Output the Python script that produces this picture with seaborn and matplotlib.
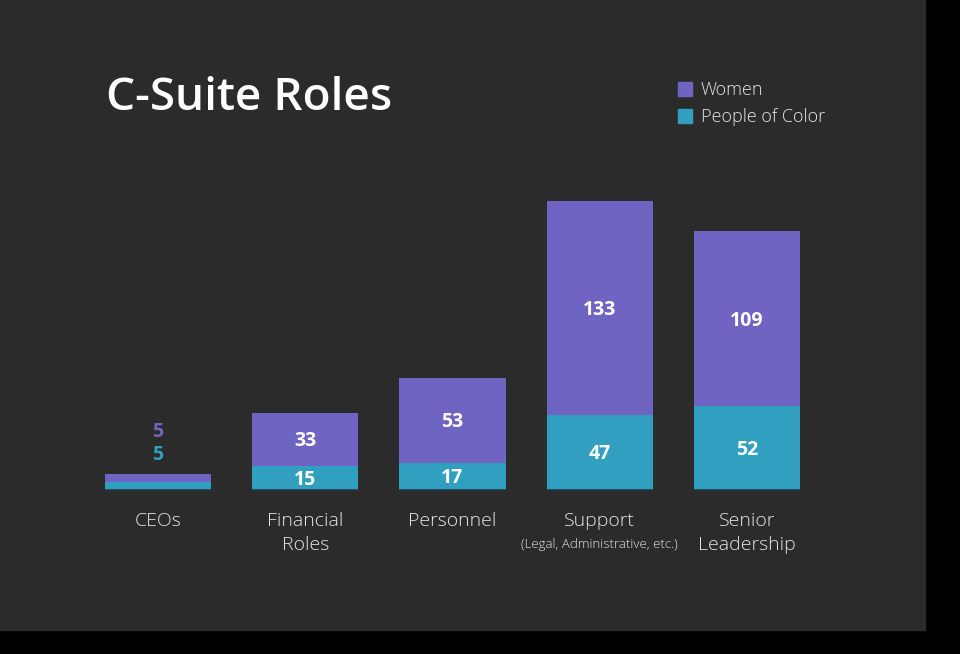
import matplotlib
matplotlib.use("Agg")
import matplotlib.pyplot as plt
import matplotlib.patches as mpatches
import seaborn as sns
import pandas as pd

categories = ["CEOs", "Financial\nRoles", "Personnel", "Support", "Senior\nLeadership"]
women = [5, 33, 53, 133, 109]
people_of_color = [5, 15, 17, 47, 52]
series_names = ["Women", "People of Color"]
title = "C-Suite Roles"
sub_note = "(Legal, Administrative, etc.)"

PURPLE = "#6f64c1"
TEAL = "#319fc0"
BG = "#2b2b2b"
TXT = "#e6e6e6"

sns.set_style("dark")
plt.rcParams["font.family"] = ["Open Sans", "DejaVu Sans"]

df = pd.DataFrame({
    "cat": categories,
    "women": women,
    "poc": people_of_color,
})
df["total"] = df["women"] + df["poc"]

W, H = 960, 654
PX = 321.2 / 200  # pixels per data unit
DY = -2 / PX      # small downward nudge for value labels
fig = plt.figure(figsize=(9.6, 6.54), dpi=100, facecolor="black")
bg = mpatches.Rectangle((0, 24 / H), 925 / W, 630 / H,
                        transform=fig.transFigure, color=BG, zorder=-10)
fig.add_artist(bg)

ax = fig.add_axes([84.4 / W, (H - 490) / H, (820.6 - 84.4) / W, 321.2 / H])
ax.set_facecolor("none")
ax.set_zorder(5)

sns.barplot(data=df, x="cat", y="total", color=PURPLE, width=0.72,
            saturation=1, ax=ax, edgecolor="none")
sns.barplot(data=df, x="cat", y="poc", color=TEAL, width=0.72,
            saturation=1, ax=ax, edgecolor="none")

ax.set_xlim(-0.5, len(categories) - 0.5)
ax.set_ylim(0, 200)
ax.set_xlabel("")
ax.set_ylabel("")
ax.set_yticks([])
ax.set_xticks([])
for s in ax.spines.values():
    s.set_visible(False)
ax.grid(False)

# thin dark base under bars
for i in range(len(categories)):
    ax.plot([i - 0.36, i + 0.36], [0, 0], color="#1f3a44", lw=1.2,
            solid_capstyle="butt", clip_on=False, zorder=5)

# value labels
for i, (w, p) in enumerate(zip(women, people_of_color)):
    if w + p < 20:
        ax.text(i, 37.4 + DY, str(w), color=PURPLE, ha="center", va="center",
                fontsize=14, fontweight="bold")
        ax.text(i, 23 + DY, str(p), color=TEAL, ha="center", va="center",
                fontsize=14, fontweight="bold")
    else:
        ax.text(i, p + w / 2 + DY, str(w), color="white", ha="center", va="center",
                fontsize=14, fontweight="bold")
        ax.text(i, p / 2 + DY, str(p), color="white", ha="center", va="center",
                fontsize=14, fontweight="bold")

# category labels (each line placed on its own baseline)
for i, c in enumerate(categories):
    for j, line in enumerate(c.split("\n")):
        base_px = 526.5 + 23 * j
        ax.text(i, -(base_px - 490) / PX, line, color=TXT, ha="center",
                va="baseline", fontsize=14, fontweight="light")
ax.text(3, -(548 - 490) / PX, sub_note, color=TXT, ha="center",
        va="baseline", fontsize=9.5, fontweight="light")

# title
fig.text(106 / W, 1 - 110 / H, title, color="white", fontsize=33,
         fontweight="semibold", ha="left", va="baseline")

# legend
for k, (name, col) in enumerate(zip(series_names, [PURPLE, TEAL])):
    yc = 89 + 27 * k
    fig.add_artist(mpatches.Rectangle((678 / W, 1 - (yc + 7) / H), 14 / W, 14 / H,
                                      transform=fig.transFigure, color=col, zorder=3))
    fig.text(701 / W, 1 - (yc + 6) / H, name, color=TXT, fontsize=13,
             fontweight="light", ha="left", va="baseline")

fig.savefig("out.png", dpi=100, facecolor=fig.get_facecolor())
